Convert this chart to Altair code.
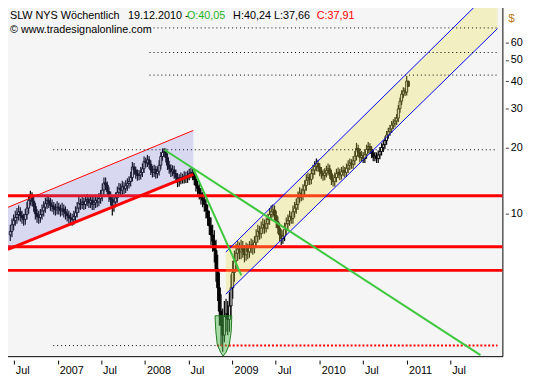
import altair as alt
import pandas as pd

FONT = "Liberation Sans"

# ---------------- weekly candles (SLW, NYS) ----------------
first_week = "2006-06-16"
opens = [8.0, 8.3, 8.9, 9.3, 9.6, 9.9, 10.2, 9.8, 9.6, 9.4,
         9.9, 10.6, 11.5, 12.0, 11.4, 10.8, 10.0, 9.7, 9.6, 9.9,
         10.3, 10.7, 11.1, 11.5, 11.2, 10.9, 10.8, 10.5, 10.4, 10.7,
         10.5, 10.3, 10.5, 10.2, 10.0, 9.8, 9.6, 9.5, 9.4, 9.7,
         10.1, 10.6, 11.1, 11.0, 11.3, 11.0, 11.4, 11.6, 11.2, 11.5,
         11.0, 11.2, 11.5, 11.3, 11.7, 12.0, 12.8, 13.8, 13.5, 12.6,
         12.0, 11.6, 10.8, 11.3, 11.8, 12.5, 13.0, 12.8, 13.3, 13.0,
         13.4, 13.7, 14.0, 14.6, 16.3, 15.8, 15.2, 14.9, 15.0, 15.4,
         16.0, 17.3, 17.0, 17.6, 16.8, 15.8, 15.4, 15.9, 15.2, 15.6,
         16.6, 18.2, 19.0, 19.2, 18.0, 16.6, 16.0, 15.5, 15.8, 15.2,
         14.6, 14.0, 14.3, 14.6, 14.4, 14.8, 14.5, 14.9, 15.2, 15.4,
         15.0, 14.3, 13.4, 13.0, 12.4, 11.8, 11.5, 11.0, 10.3, 9.6,
         8.8, 8.0, 7.5, 6.8, 5.6, 4.6, 3.6, 3.1, 2.8, 3.4,
         3.5, 3.3, 3.8, 4.6, 5.4, 6.1, 6.6, 6.9, 6.7, 7.1,
         6.8, 6.5, 6.9, 6.7, 7.0, 7.2, 7.0, 7.4, 7.9, 8.3,
         8.1, 8.6, 8.9, 8.6, 9.0, 9.4, 9.9, 10.2, 10.4, 9.8,
         9.2, 8.6, 8.0, 7.7, 7.9, 8.5, 9.0, 9.3, 9.7, 9.5,
         10.2, 10.6, 11.0, 11.8, 12.4, 12.1, 12.8, 13.4, 14.2, 14.6,
         14.3, 15.2, 15.8, 16.4, 16.9, 16.3, 15.6, 15.2, 14.9, 15.3,
         15.7, 16.0, 15.2, 14.3, 14.0, 14.6, 15.2, 15.4, 15.0, 15.5,
         15.7, 15.4, 16.1, 16.6, 17.0, 16.8, 17.4, 18.3, 19.8, 19.0,
         18.0, 18.4, 17.8, 18.6, 19.6, 20.2, 19.6, 18.8, 18.1, 18.3,
         17.8, 18.5, 19.2, 20.0, 20.6, 21.5, 22.8, 23.6, 24.3, 25.3,
         25.8, 26.4, 27.2, 30.0, 32.5, 35.0, 36.2, 35.7, 40.05]
highs = [8.9, 9.5, 9.9, 10.3, 10.6, 10.9, 10.7, 10.3, 10.0, 10.5,
         11.3, 12.2, 12.7, 12.5, 12.0, 11.2, 10.5, 10.3, 10.5, 11.0,
         11.4, 11.8, 12.2, 12.0, 11.8, 11.6, 11.3, 11.1, 11.4, 11.2,
         11.0, 11.2, 11.0, 10.8, 10.5, 10.3, 10.1, 10.0, 10.3, 10.8,
         11.3, 11.9, 11.7, 12.0, 11.8, 12.1, 12.3, 12.1, 12.2, 12.0,
         11.9, 12.2, 12.1, 12.4, 12.8, 13.7, 14.6, 14.6, 14.0, 13.2,
         12.6, 12.1, 11.9, 12.5, 13.3, 13.8, 13.7, 14.1, 13.9, 14.2,
         14.5, 14.8, 15.5, 17.2, 17.0, 16.4, 15.9, 15.8, 16.3, 16.9,
         18.2, 18.0, 18.5, 18.3, 17.5, 16.5, 16.7, 16.5, 16.4, 17.5,
         19.1, 19.8, 19.9, 19.8, 18.8, 17.4, 16.8, 16.6, 16.5, 15.9,
         15.3, 15.1, 15.4, 15.2, 15.6, 15.5, 15.7, 16.0, 16.2, 16.1,
         15.7, 15.0, 14.1, 13.7, 13.1, 12.5, 12.2, 11.7, 11.0, 10.3,
         9.6, 8.9, 8.4, 7.6, 6.5, 5.4, 4.3, 3.7, 4.0, 4.1,
         4.0, 4.4, 5.3, 6.1, 6.8, 7.3, 7.5, 7.4, 7.6, 7.5,
         7.2, 7.4, 7.3, 7.5, 7.7, 7.6, 7.9, 8.5, 8.9, 8.8,
         9.2, 9.5, 9.4, 9.6, 10.0, 10.6, 10.9, 11.0, 10.9, 10.3,
         9.7, 9.1, 8.5, 8.4, 9.1, 9.6, 9.9, 10.3, 10.2, 10.9,
         11.3, 11.7, 12.6, 13.2, 13.0, 13.6, 14.2, 15.1, 15.4, 15.2,
         16.0, 16.7, 17.3, 17.8, 17.6, 17.0, 16.3, 15.9, 16.1, 16.5,
         16.9, 16.7, 15.8, 15.0, 15.4, 16.0, 16.2, 16.0, 16.3, 16.5,
         16.3, 16.9, 17.5, 17.8, 17.7, 18.3, 19.3, 21.0, 20.6, 19.8,
         19.3, 19.1, 19.5, 20.6, 21.2, 20.9, 20.3, 19.5, 19.1, 19.0,
         19.4, 20.1, 20.9, 21.5, 22.5, 23.8, 24.6, 25.3, 26.4, 26.9,
         27.5, 28.4, 31.2, 33.8, 36.4, 37.6, 37.4, 42.3, 40.24]
lows = [7.5, 7.8, 8.4, 8.8, 9.0, 9.3, 9.2, 9.0, 8.8, 8.9,
        9.4, 10.0, 10.9, 10.8, 10.2, 9.4, 9.1, 9.0, 9.1, 9.4,
        9.7, 10.1, 10.5, 10.6, 10.3, 10.2, 9.9, 9.8, 9.9, 9.9,
        9.7, 9.8, 9.6, 9.4, 9.2, 9.0, 8.9, 8.8, 8.9, 9.2,
        9.6, 10.1, 10.4, 10.5, 10.4, 10.5, 10.8, 10.6, 10.6, 10.4,
        10.4, 10.6, 10.7, 10.8, 11.1, 11.4, 12.2, 12.8, 11.9, 11.3,
        10.9, 9.8, 10.2, 10.7, 11.2, 11.9, 12.1, 12.2, 12.3, 12.4,
        12.7, 13.0, 13.3, 14.0, 15.0, 14.4, 14.1, 14.2, 14.3, 14.7,
        15.3, 16.2, 16.3, 16.0, 15.0, 14.6, 14.7, 14.4, 14.5, 14.9,
        15.9, 17.4, 18.1, 17.1, 15.8, 15.2, 14.7, 14.8, 14.4, 13.8,
        13.2, 13.3, 13.6, 13.7, 13.7, 13.8, 13.8, 14.2, 14.5, 14.2,
        13.5, 12.6, 12.2, 11.6, 11.0, 10.7, 10.2, 9.5, 8.8, 8.0,
        7.2, 6.7, 6.0, 4.9, 4.0, 3.1, 2.5, 2.35, 2.6, 2.9,
        2.8, 2.9, 3.4, 4.1, 4.9, 5.6, 6.1, 6.2, 6.2, 6.3,
        6.0, 6.1, 6.2, 6.3, 6.6, 6.5, 6.6, 7.0, 7.4, 7.6,
        7.7, 8.1, 8.1, 8.2, 8.5, 8.9, 9.3, 9.6, 9.2, 8.6,
        8.1, 7.5, 7.2, 7.3, 7.5, 8.0, 8.5, 8.8, 9.0, 9.0,
        9.6, 10.0, 10.4, 11.2, 11.4, 11.5, 12.1, 12.7, 13.5, 13.5,
        13.6, 14.4, 15.0, 15.6, 15.5, 14.8, 14.4, 14.1, 14.2, 14.6,
        14.9, 14.4, 13.5, 13.3, 13.3, 13.9, 14.5, 14.2, 14.3, 14.8,
        14.6, 14.7, 15.3, 15.8, 16.0, 16.0, 16.6, 17.5, 18.1, 17.1,
        17.2, 17.0, 17.0, 17.8, 18.8, 18.7, 17.9, 17.3, 17.3, 17.0,
        17.0, 17.7, 18.4, 19.1, 19.7, 20.6, 21.9, 22.6, 23.3, 24.3,
        24.7, 25.3, 26.1, 28.8, 31.2, 33.6, 34.3, 34.5, 37.66]
closes = [8.3, 8.9, 9.3, 9.6, 9.9, 10.2, 9.8, 9.6, 9.4, 9.9,
          10.6, 11.5, 12.0, 11.4, 10.8, 10.0, 9.7, 9.6, 9.9, 10.3,
          10.7, 11.1, 11.5, 11.2, 10.9, 10.8, 10.5, 10.4, 10.7, 10.5,
          10.3, 10.5, 10.2, 10.0, 9.8, 9.6, 9.5, 9.4, 9.7, 10.1,
          10.6, 11.1, 11.0, 11.3, 11.0, 11.4, 11.6, 11.2, 11.5, 11.0,
          11.2, 11.5, 11.3, 11.7, 12.0, 12.8, 13.8, 13.5, 12.6, 12.0,
          11.6, 10.8, 11.3, 11.8, 12.5, 13.0, 12.8, 13.3, 13.0, 13.4,
          13.7, 14.0, 14.6, 16.3, 15.8, 15.2, 14.9, 15.0, 15.4, 16.0,
          17.3, 17.0, 17.6, 16.8, 15.8, 15.4, 15.9, 15.2, 15.6, 16.6,
          18.2, 19.0, 19.2, 18.0, 16.6, 16.0, 15.5, 15.8, 15.2, 14.6,
          14.0, 14.3, 14.6, 14.4, 14.8, 14.5, 14.9, 15.2, 15.4, 15.0,
          14.3, 13.4, 13.0, 12.4, 11.8, 11.5, 11.0, 10.3, 9.6, 8.8,
          8.0, 7.5, 6.8, 5.6, 4.6, 3.6, 3.1, 2.8, 3.4, 3.5,
          3.3, 3.8, 4.6, 5.4, 6.1, 6.6, 6.9, 6.7, 7.1, 6.8,
          6.5, 6.9, 6.7, 7.0, 7.2, 7.0, 7.4, 7.9, 8.3, 8.1,
          8.6, 8.9, 8.6, 9.0, 9.4, 9.9, 10.2, 10.4, 9.8, 9.2,
          8.6, 8.0, 7.7, 7.9, 8.5, 9.0, 9.3, 9.7, 9.5, 10.2,
          10.6, 11.0, 11.8, 12.4, 12.1, 12.8, 13.4, 14.2, 14.6, 14.3,
          15.2, 15.8, 16.4, 16.9, 16.3, 15.6, 15.2, 14.9, 15.3, 15.7,
          16.0, 15.2, 14.3, 14.0, 14.6, 15.2, 15.4, 15.0, 15.5, 15.7,
          15.4, 16.1, 16.6, 17.0, 16.8, 17.4, 18.3, 19.8, 19.0, 18.0,
          18.4, 17.8, 18.6, 19.6, 20.2, 19.6, 18.8, 18.1, 18.3, 17.8,
          18.5, 19.2, 20.0, 20.6, 21.5, 22.8, 23.6, 24.3, 25.3, 25.8,
          26.4, 27.2, 30.0, 32.5, 35.0, 36.2, 35.7, 40.1, 37.91]

# ---------------- drawing tools (data units) ----------------
lav_dates = ["2006-06-06", "2008-07-21"]
lav_upper = [10.68, 23.92]
lav_lower = [6.88, 15.10]

yel_dates = ["2008-12-04", "2012-01-15"]
yel_upper = [6.69, 110.7]
yel_lower = [4.30, 69.5]

red_levels = [12.07, 7.07, 5.52]
low_level = [2.51]
low_start = ["2008-10-28"]
low_end = ["2012-01-15"]

dot_levels = [70.0, 54.1, 42.7, 19.53, 2.51]
dot_starts = ["2008-01-20", "2008-01-20", "2008-01-20", "2006-12-13", "2006-12-13"]
dot_ends = ["2012-01-15", "2012-01-15", "2012-01-15", "2012-01-15", "2008-10-28"]

green1_dates = ["2008-03-22", "2011-11-05"]
green1_vals = [19.53, 2.27]
green2_dates = ["2008-07-21", "2009-02-07"]
green2_vals = [16.01, 5.24]

cup_dates = ["2008-10-20", "2008-10-23", "2008-10-29", "2008-11-12", "2008-11-23",
             "2008-12-05", "2008-12-19", "2008-12-27", "2008-12-29"]
cup_top = [3.43, 3.43, 3.43, 3.43, 3.43, 3.43, 3.43, 3.43, 3.43]
cup_bottom = [3.43, 2.94, 2.55, 2.34, 2.25, 2.34, 2.55, 2.94, 3.43]

tick_months = [(2006, 7), (2007, 1), (2007, 7), (2008, 1), (2008, 7), (2009, 1),
               (2009, 7), (2010, 1), (2010, 7), (2011, 1), (2011, 7)]
y_ticks = [10, 20, 30, 40, 50, 60]

header = [("SLW NYS Wöchentlich", 7, "#000000"),
          ("19.12.2010 -", 127, "#000000"),
          ("O:40,05", 187, "#1fb41f"),
          ("H:40,24 L:37,66", 234, "#000000"),
          ("C:37,91", 319, "#ff0000")]
credit = "© www.tradesignalonline.com"

# ---------------- scales / axes ----------------
x_domain = [alt.DateTime(year=2006, month=6, date=6, hours=12),
            alt.DateTime(year=2012, month=1, date=15)]
y_domain = [2.2465, 90.59]

x_axis = alt.Axis(
    values=[alt.DateTime(year=y, month=m, date=1) for y, m in tick_months],
    labelExpr="month(datum.value) == 0 ? timeFormat(datum.value, '%Y') : 'Jul'",
    orient="bottom", offset=4, tickSize=4, labelPadding=1, labelAlign="left",
    labelBaseline="top", labelOffset=1.5, domain=False, grid=False, title=None,
    labelFont=FONT, labelFontSize=11, labelColor="#000000", tickColor="#000000",
    labelOverlap=False, labelFlush=False, labelBound=False)
y_axis = alt.Axis(
    values=y_ticks, format="d", orient="right", offset=3, tickSize=3, labelPadding=2,
    domain=False, grid=False, title=None, labelFont=FONT, labelFontSize=11,
    labelColor="#000000", tickColor="#333333", labelOverlap=False, labelFlush=False)


def X(field="date"):
    return alt.X(f"{field}:T", scale=alt.Scale(domain=x_domain), axis=x_axis)


def Y(field):
    return alt.Y(f"{field}:Q", scale=alt.Scale(type="log", domain=y_domain), axis=y_axis)


candles = pd.DataFrame({
    "date": pd.date_range(first_week, periods=len(closes), freq="7D"),
    "open": opens, "high": highs, "low": lows, "close": closes})
candles["dir"] = ["up" if c >= o else "down" for o, c in zip(opens, closes)]

wicks = alt.Chart(candles).mark_rule(color="#000000", strokeWidth=1.2).encode(
    x=X(), y=Y("low"), y2=alt.Y2("high"))
bodies = alt.Chart(candles).mark_bar(size=2, stroke="#000000", strokeWidth=1).encode(
    x=X(), y=Y("open"), y2=alt.Y2("close"),
    fill=alt.Fill("dir:N", scale=alt.Scale(domain=["up", "down"], range=["#ffffff", "#000000"]),
                  legend=None))

red_df = pd.DataFrame({"level": red_levels})
red_rules = alt.Chart(red_df).mark_rule(color="#ff0000", strokeWidth=3).encode(y=Y("level"))

low_df = pd.DataFrame({"start": pd.to_datetime(low_start), "end": pd.to_datetime(low_end),
                       "level": low_level})
low_rule = alt.Chart(low_df).mark_rule(color="#ff0000", strokeWidth=2, strokeDash=[2, 2]).encode(
    x=X("start"), x2=alt.X2("end"), y=Y("level"))

yel = pd.DataFrame({"date": pd.to_datetime(yel_dates), "upper": yel_upper, "lower": yel_lower})
yel_area = alt.Chart(yel).mark_area(color="#ece24e", opacity=0.3, clip=True).encode(
    x=X(), y=Y("lower"), y2=alt.Y2("upper"))
yel_up = alt.Chart(yel).mark_line(color="#0000ff", strokeWidth=1, clip=True).encode(x=X(), y=Y("upper"))
yel_lo = alt.Chart(yel).mark_line(color="#0000ff", strokeWidth=1, clip=True).encode(x=X(), y=Y("lower"))

lav = pd.DataFrame({"date": pd.to_datetime(lav_dates), "upper": lav_upper, "lower": lav_lower})
lav_area = alt.Chart(lav).mark_area(color="#7474e4", opacity=0.22, clip=True).encode(
    x=X(), y=Y("lower"), y2=alt.Y2("upper"))
lav_up = alt.Chart(lav).mark_line(color="#ff0000", strokeWidth=1, clip=True).encode(x=X(), y=Y("upper"))
lav_lo = alt.Chart(lav).mark_line(color="#ff0000", strokeWidth=3, clip=True).encode(x=X(), y=Y("lower"))

cup = pd.DataFrame({"date": pd.to_datetime(cup_dates), "top": cup_top, "bottom": cup_bottom})
cup_area = alt.Chart(cup).mark_area(color="#4cbc4c", fillOpacity=0.45, stroke="#1d7a1d",
                                    strokeWidth=1, clip=True).encode(
    x=X(), y=Y("bottom"), y2=alt.Y2("top"))

g1 = pd.DataFrame({"date": pd.to_datetime(green1_dates), "v": green1_vals})
g2 = pd.DataFrame({"date": pd.to_datetime(green2_dates), "v": green2_vals})
g1_line = alt.Chart(g1).mark_line(color="#3ec83e", strokeWidth=2, clip=True).encode(x=X(), y=Y("v"))
g2_line = alt.Chart(g2).mark_line(color="#3ec83e", strokeWidth=2, clip=True).encode(x=X(), y=Y("v"))

dots = pd.DataFrame({"start": pd.to_datetime(dot_starts), "end": pd.to_datetime(dot_ends),
                     "level": dot_levels})
dot_rules = alt.Chart(dots).mark_rule(color="#000000", strokeWidth=1, strokeDash=[1, 3]).encode(
    x=X("start"), x2=alt.X2("end"), y=Y("level"))

texts = []
for txt, px, col in header:
    texts.append(alt.Chart(pd.DataFrame({"t": [txt]})).mark_text(
        align="left", baseline="middle", font=FONT, fontSize=11, color=col).encode(
        text="t:N", x=alt.value(px), y=alt.value(13)))
texts.append(alt.Chart(pd.DataFrame({"t": [credit]})).mark_text(
    align="left", baseline="middle", font=FONT, fontSize=11, color="#000000").encode(
    text="t:N", x=alt.value(7), y=alt.value(27)))
texts.append(alt.Chart(pd.DataFrame({"t": ["$"]})).mark_text(
    align="left", baseline="middle", font=FONT, fontSize=12, color="#c07818").encode(
    text="t:N", x=alt.value(514), y=alt.value(15)))

chart = alt.layer(
    wicks, bodies, red_rules, low_rule, yel_area, yel_up, yel_lo,
    lav_area, lav_up, lav_lo, cup_area, g1_line, g2_line, dot_rules, *texts
).properties(
    width=508, height=359,
    padding={"left": -7, "top": -8, "right": 2, "bottom": 0},
    background="#ffffff",
).configure_view(fill="#f5f5f5", stroke="#000000", strokeWidth=1)

chart.save("out.html", embed_options={"renderer": "svg", "actions": False})
